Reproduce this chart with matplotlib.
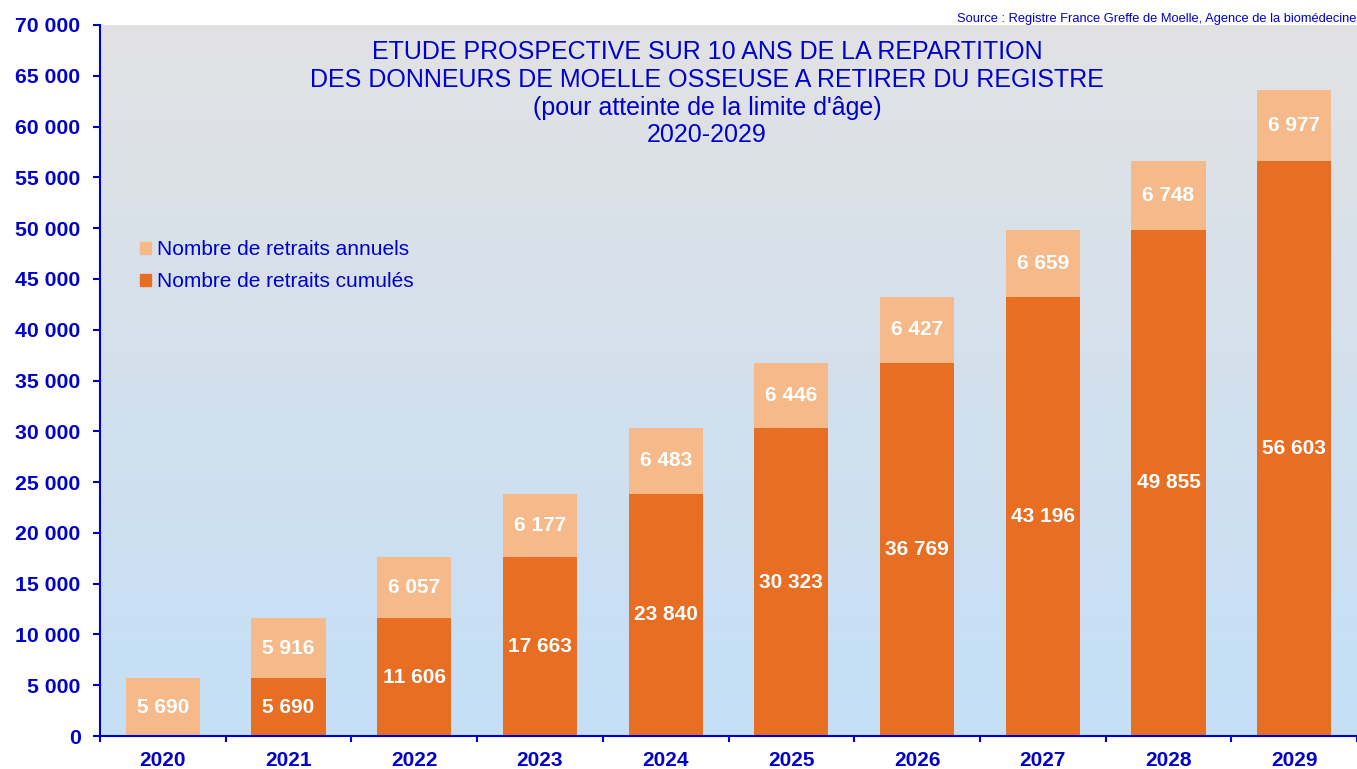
import matplotlib
matplotlib.use("Agg")
import matplotlib.pyplot as plt
import numpy as np
from matplotlib.patches import Patch

years = ["2020", "2021", "2022", "2023", "2024", "2025", "2026", "2027", "2028", "2029"]
cumules = [0, 5690, 11606, 17663, 23840, 30323, 36769, 43196, 49855, 56603]
annuels = [5690, 5916, 6057, 6177, 6483, 6446, 6427, 6659, 6748, 6977]
yticks = list(range(0, 70001, 5000))

BLUE = "#0000CC"
LIGHT = "#F5B98A"
DARK = "#E86E23"

plt.rcParams['font.family'] = ['Liberation Sans', 'DejaVu Sans']

W, H = 1357, 769
fig = plt.figure(figsize=(W / 100, H / 100), dpi=100)
fig.patch.set_facecolor("white")
ax = fig.add_axes([100 / W, 1 - 736 / H, (W - 100) / W, (736 - 25) / H])

# background gradient
top = np.array([0xE2, 0xE2, 0xE3]) / 255
bot = np.array([0xC4, 0xDF, 0xF7]) / 255
t = np.linspace(0, 1, 256)[:, None]
grad = (top[None, :] * (1 - t) + bot[None, :] * t)[:, None, :]
ax.imshow(grad, extent=[0, 1, 0, 1], transform=ax.transAxes, aspect='auto', zorder=0)

x = np.arange(len(years))
bw = 0.59
b1 = ax.bar(x, cumules, width=bw, color=DARK, zorder=2, label="Nombre de retraits cumulés")
b2 = ax.bar(x, annuels, width=bw, bottom=cumules, color=LIGHT, zorder=2, label="Nombre de retraits annuels")

def fmt(v):
    return f"{v:,}".replace(",", " ")

ax.bar_label(b1, labels=[fmt(v) if v > 0 else "" for v in cumules], label_type='center',
             color="white", fontsize=15, fontweight='bold', zorder=3)
ax.bar_label(b2, labels=[fmt(v) for v in annuels], label_type='center',
             color="white", fontsize=15, fontweight='bold', zorder=3)

ax.set_xlim(-0.5, len(years) - 0.5)
ax.set_ylim(0, 70000)
ax.set_yticks(yticks)
ax.set_yticklabels([fmt(v) for v in yticks])
ax.set_xticks(x)
ax.set_xticklabels(years)
ax.set_xticks(np.arange(-0.5, len(years), 1), minor=True)
ax.tick_params(axis='x', which='major', length=0, pad=10.5, labelsize=15, labelcolor=BLUE)
ax.tick_params(axis='x', which='minor', length=4, width=1.5, color=BLUE, direction='out')
ax.tick_params(axis='y', length=5, width=1.5, color=BLUE, direction='out', pad=9,
               labelsize=15.3, labelcolor=BLUE)
for lab in ax.get_xticklabels() + ax.get_yticklabels():
    lab.set_fontweight('bold')

for s in ['top', 'right']:
    ax.spines[s].set_visible(False)
for s in ['left', 'bottom']:
    ax.spines[s].set_color(BLUE)
    ax.spines[s].set_linewidth(1.5)

handles = [Patch(color=LIGHT, label="Nombre de retraits annuels"),
           Patch(color=DARK, label="Nombre de retraits cumulés")]
ax.legend(handles=handles, loc='upper left', bbox_to_anchor=(32 / 1257, (736 - 232) / 711),
          frameon=False, fontsize=15, labelcolor=BLUE, handlelength=0.5, handleheight=0.5,
          handletextpad=0.3, labelspacing=0.62, borderaxespad=0)

fig.text(707 / W, 1 - 40 / H,
         "ETUDE PROSPECTIVE SUR 10 ANS DE LA REPARTITION\n"
         "DES DONNEURS DE MOELLE OSSEUSE A RETIRER DU REGISTRE\n"
         "(pour atteinte de la limite d'âge)\n2020-2029",
         ha='center', va='top', color=BLUE, fontsize=18, linespacing=1.2)

fig.text(1356 / W, 1 - 19 / H, "Source : Registre France Greffe de Moelle, Agence de la biomédecine",
         ha='right', va='center', color=BLUE, fontsize=9.3)

fig.savefig("out.png", dpi=100)
